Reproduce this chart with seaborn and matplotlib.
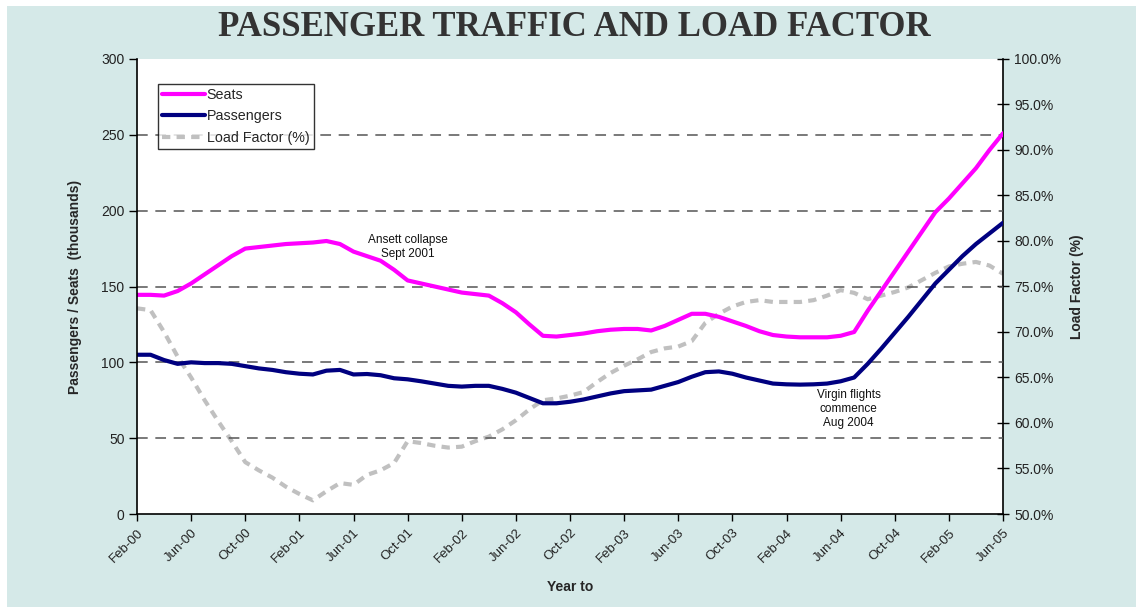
import numpy as np
import pandas as pd
import matplotlib
matplotlib.use("Agg")
import matplotlib.pyplot as plt
from matplotlib.patches import Rectangle
from matplotlib.ticker import FuncFormatter, FixedLocator
import seaborn as sns

# Monthly series, Feb-2000 .. Jun-2005 (year-to totals, thousands)
months = pd.date_range("2000-02-01", "2005-06-01", freq="MS")

seats = [144.5, 144.5, 144, 147, 152, 158, 164, 170, 175, 176,
         177, 178, 178.5, 179, 180, 178, 173, 170, 167, 161,
         154, 152, 150, 148, 146, 145, 144, 139, 133, 125,
         117.5, 117, 118, 119, 120.5, 121.5, 122, 122, 121, 124,
         128, 132, 132, 130, 127, 124, 120.5, 118, 117, 116.5,
         116.5, 116.5, 117.5, 120, 134, 147, 160, 173, 186, 199,
         208, 218, 228, 240, 251]

passengers = [105, 105, 101.5, 99, 100, 99.5, 99.5, 99, 97.5, 96,
              95, 93.5, 92.5, 92, 94.5, 95, 92, 92.3, 91.5, 89.5,
              88.8, 87.5, 86, 84.5, 84, 84.5, 84.5, 82.5, 80, 76.5,
              73, 73, 74, 75.5, 77.5, 79.5, 81, 81.5, 82, 84.5,
              87, 90.5, 93.5, 94, 92.5, 90, 88, 86, 85.5, 85.3,
              85.5, 86, 87.5, 90, 99, 109, 119.5, 130, 141, 152,
              161, 170, 178, 185, 192]

load_factor = [72.6, 72.4, 70, 67.3, 65, 62.5, 60.2, 58, 55.7, 54.8,
               54, 53, 52.2, 51.5, 52.5, 53.4, 53.2, 54.3, 54.8, 55.6,
               58, 57.8, 57.5, 57.3, 57.4, 58, 58.5, 59.3, 60.3, 61.5,
               62.5, 62.7, 63, 63.4, 64.5, 65.5, 66.3, 67, 67.8, 68.2,
               68.4, 69, 71, 72, 72.8, 73.3, 73.5, 73.3, 73.3, 73.3,
               73.5, 74, 74.6, 74.3, 73.6, 74, 74.4, 74.9, 75.7, 76.5,
               77.2, 77.5, 77.7, 77.3, 76.4]

tick_labels = ["Feb-00", "Jun-00", "Oct-00", "Feb-01", "Jun-01", "Oct-01",
               "Feb-02", "Jun-02", "Oct-02", "Feb-03", "Jun-03", "Oct-03",
               "Feb-04", "Jun-04", "Oct-04", "Feb-05", "Jun-05"]

annotations = [("Ansett collapse\nSept 2001", 20, 167.5),
               ("Virgin flights\ncommence\nAug 2004", 52.6, 56)]

df = pd.DataFrame({
    "idx": np.arange(len(months)),
    "Seats": seats,
    "Passengers": passengers,
    "Load Factor (%)": load_factor,
})

sns.set_theme(style="white")
plt.rcParams["font.family"] = ["Liberation Sans", "DejaVu Sans"]

BG = "#D5E9E8"
W, H = 1136, 607
fig = plt.figure(figsize=(11.36, 6.07), dpi=100)
fig.patch.set_facecolor("white")
fig.add_artist(Rectangle((7 / W, 0), 1 - 7 / W, 1 - 6 / H,
                         transform=fig.transFigure, facecolor=BG,
                         edgecolor="none", zorder=-10))

ax = fig.add_axes([137 / W, 1 - 514 / H, (1003 - 137) / W, (514 - 59) / H])
ax2 = ax.twinx()

LW = 3.0
sns.lineplot(data=df, x="idx", y="Load Factor (%)", ax=ax2, color="#C0C0C0",
             linewidth=LW, label="Load Factor (%)", legend=False)
ax2.lines[0].set_dashes([2.0, 1.5])
sns.lineplot(data=df, x="idx", y="Seats", ax=ax, color="#FF00FF",
             linewidth=LW, label="Seats", legend=False)
sns.lineplot(data=df, x="idx", y="Passengers", ax=ax, color="#000080",
             linewidth=LW, label="Passengers", legend=False)

# primary axes drawn above the secondary one, which carries the white face
ax2.set_zorder(0)
ax2.patch.set_visible(True)
ax2.patch.set_facecolor("white")
ax.set_zorder(1)
ax.patch.set_visible(False)

ax.set_xlim(0, len(months) - 1)
ax.set_ylim(0, 300)
ax2.set_ylim(50, 100)

ax.set_yticks(np.arange(0, 301, 50))
ax2.set_yticks(np.arange(50, 100.1, 5))
ax2.yaxis.set_major_formatter(FuncFormatter(lambda v, p: f"{v:.1f}%"))
ax.xaxis.set_major_locator(FixedLocator(np.arange(0, len(months), 4)))
ax.set_xticklabels(tick_labels, rotation=45, ha="right", rotation_mode="anchor",
                   fontsize=9.5, color="#222222")

for v in range(50, 300, 50):
    ax.axhline(v, color="#555555", linewidth=1.1, dashes=(7, 5), zorder=0)

for a in (ax, ax2):
    for s in a.spines.values():
        s.set_visible(False)
ax.spines["left"].set_visible(True)
ax.spines["bottom"].set_visible(True)
ax2.spines["right"].set_visible(True)
for s in (ax.spines["left"], ax.spines["bottom"], ax2.spines["right"]):
    s.set_color("black")
    s.set_linewidth(1.2)

ax.tick_params(axis="y", direction="out", length=6, width=1, color="black",
               labelsize=10, labelcolor="#222222", pad=3, left=True)
ax.tick_params(axis="x", direction="out", length=5, width=1, color="black",
               bottom=True, pad=4)
ax2.tick_params(axis="y", direction="inout", length=8, width=1, color="black",
                labelsize=10, labelcolor="#222222", pad=4, right=True)

ax.set_xlabel("Year to", fontsize=10, fontweight="bold")
ax.set_ylabel("Passengers / Seats  (thousands)", fontsize=10, fontweight="bold")
ax2.set_ylabel("Load Factor (%)", fontsize=10, fontweight="bold")
ax.xaxis.set_label_coords(0.5, -(587 - 514) / 455, transform=ax.transAxes)
ax.yaxis.set_label_coords(-(137 - 75) / 866, 0.5)
ax2.yaxis.set_label_coords(1 + (1077 - 1003) / 866, 0.5)
ax.xaxis.label.set_va("center")
ax.yaxis.label.set_va("center")
ax2.yaxis.label.set_va("center")

for text, xi, yv in annotations:
    ax.text(xi, yv, text, ha="center", va="bottom", fontsize=8.5,
            color="#111111", linespacing=1.25)

fig.text(574 / W, 1 - 28 / H, "PASSENGER TRAFFIC AND LOAD FACTOR",
         ha="center", va="center", fontsize=25, fontweight="bold",
         family=["Liberation Serif", "DejaVu Serif"], color="#333333")

handles = ax.get_lines()[:2] + ax2.get_lines()[:1]
leg = ax.legend(handles=handles, loc="upper left",
                bbox_to_anchor=(21 / 866, 1 - 25 / 455),
                frameon=True, fancybox=False, fontsize=10.3, handlelength=3.0,
                handletextpad=0.1, borderpad=0.3, labelspacing=0.5,
                borderaxespad=0)
leg.get_frame().set_edgecolor("black")
leg.get_frame().set_linewidth(1)
leg.get_frame().set_facecolor("white")
leg.set_zorder(10)

fig.savefig("out.png", dpi=100, facecolor=fig.get_facecolor())
